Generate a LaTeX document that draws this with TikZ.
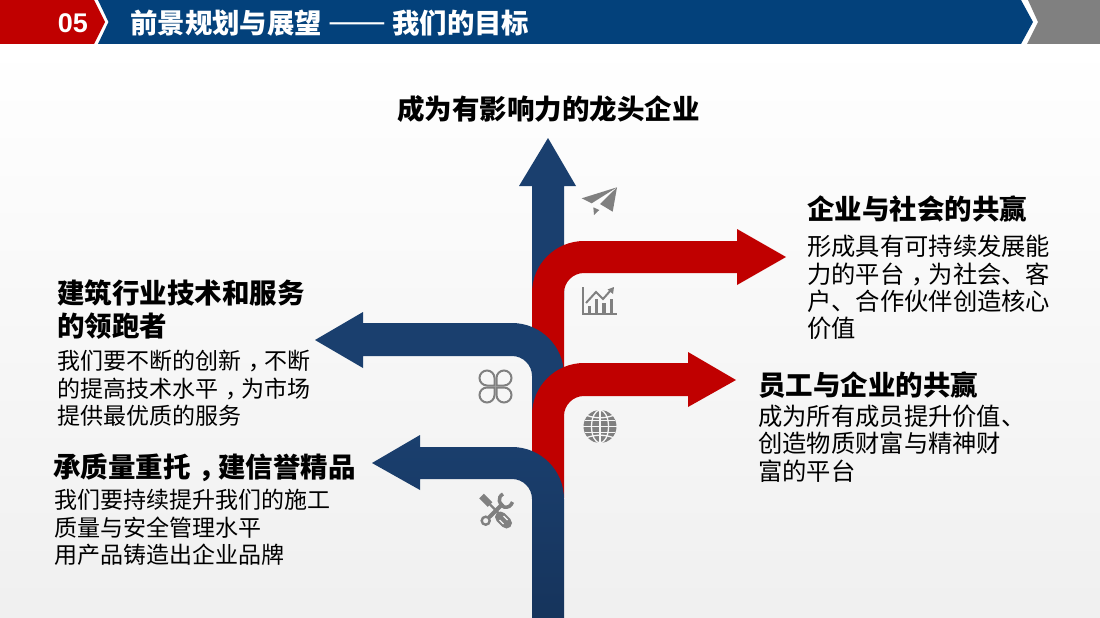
\documentclass[tikz,border=0pt]{standalone}
\usepackage{fontspec}
\setmainfont{Noto Sans CJK SC}
\newfontfamily\digitfont{Liberation Sans}
\usetikzlibrary{positioning}
\definecolor{planRed}{HTML}{C00000}
\definecolor{planNavy}{HTML}{03417B}
\definecolor{planBlue}{HTML}{1A3F6E}
\definecolor{planBlueDark}{HTML}{16345C}
\definecolor{planGrey}{HTML}{808080}
\definecolor{planPaper}{HTML}{F6F6F6}
\newcommand{\midcomma}{\kern.3em，\kern-.3em}

\begin{document}
\begin{tikzpicture}[x=1pt,y=-1pt]
\tikzset{BlueArrow/.style={fill=planBlue}}
\tikzset{RedArrow/.style={fill=planRed}}
\tikzset{IconFill/.style={fill=planGrey}}
\tikzset{IconLine/.style={draw=planGrey, line width=2pt}}
\tikzset{IconGap/.style={draw=planPaper, line width=1.3pt}}
\tikzset{MainHead/.style={
  anchor=north west,
  inner sep=0pt,
  align=left,
  font=\fontsize{27.5}{33}\selectfont\bfseries
}}
\tikzset{MainBody/.style={
  anchor=north west,
  inner sep=0pt,
  align=left,
  font=\fontsize{23}{27.6}\selectfont
}}

\useasboundingbox (0,0) rectangle (1100,618);
\shade[top color=white, bottom color=white!94!black] (0,44) rectangle (1100,618);

% header band
\fill[planRed] (0,0) -- (94,0) -- (105,22) -- (94,44) -- (0,44) -- cycle;
\fill[planNavy] (98,0) -- (1021,0) -- (1033,22) -- (1021,44) -- (98,44) -- (108.5,22) -- cycle;
\fill[planGrey] (1028,0) -- (1100,0) -- (1100,44) -- (1027,44) -- (1038,22) -- cycle;
\node[inner sep=0pt, text=white, font=\digitfont\fontsize{27}{30}\selectfont\bfseries] (chapterNo) at (73,23) {05};
\node[inner sep=0pt, anchor=west, text=white, font=\fontsize{27.4}{30}\selectfont\bfseries] (chapterTitle) at (130,23) {前景规划与展望 {\mdseries\fontsize{34.5}{30}\selectfont ——} 我们的目标};

% arrows, back to front
\fill[BlueArrow] (532,300) -- (532,186) -- (519,186) -- (548,138) -- (576,186) -- (564,186) -- (564,300) -- cycle;
\fill[RedArrow] (532,380) -- (532,293) .. controls (532,264.3) and (555.3,241) .. (584,241)
  -- (737,241) -- (737,229) -- (786,257) -- (737,285) -- (737,273) -- (584,273)
  .. controls (573,273) and (564,282) .. (564,293) -- (564,380) -- cycle;
\fill[BlueArrow] (532,412) -- (532,376) .. controls (532,365) and (523,356) .. (512,356)
  -- (363,356) -- (363,368) -- (315,340) -- (363,312) -- (363,323) -- (512,323)
  .. controls (540.7,323) and (564,346.3) .. (564,375) -- cycle;
\fill[RedArrow] (532,470) -- (532,415) .. controls (532,386.3) and (555.3,363) .. (584,363)
  -- (688,363) -- (688,352) -- (736,380) -- (688,407) -- (688,396) -- (584,396)
  .. controls (573,396) and (564,405) .. (564,416) -- (564,498) -- cycle;
\shade[top color=planBlue, bottom color=planBlueDark] (532,618) -- (532,499) .. controls (532,488) and (523,479) .. (512,479)
  -- (420,479) -- (420,490) -- (372,463) -- (420,435) -- (420,447) -- (512,447)
  .. controls (540.7,447) and (564,470.3) .. (564,499) -- (564,618) -- cycle;

% paper plane
\fill[IconFill] (581.7,198.3) -- (617,187.3) -- (591.7,203.3) -- cycle;
\fill[IconFill] (617,187.3) -- (612.7,211.7) -- (600,204) -- cycle;
\fill[IconFill] (593.3,207.3) -- (599.3,210) -- (594,215) -- cycle;

% chart
\draw[IconLine] (582.5,287) -- (582.5,313.5) -- (617,313.5);
\fill[IconFill] (588,306) rectangle (591,313);
\fill[IconFill] (595,299) rectangle (598,313);
\fill[IconFill] (602,303) rectangle (606,313);
\fill[IconFill] (610,299) rectangle (613,313);
\draw[IconLine] (586,303) -- (596,292) -- (603,299) -- (611,290);
\fill[IconFill] (614,287) -- (613,294) -- (607.5,289.5) -- cycle;

% clover
\foreach \sx/\sy in {1/1,1/-1,-1/1,-1/-1}{
  \begin{scope}[shift={(495.5,386.5)},xscale=\sx,yscale=\sy]
    \draw[IconLine] (1,1) -- (1,8.5) .. controls (1,12.6) and (4.4,16) .. (8.5,16)
      .. controls (12.6,16) and (16,12.6) .. (16,8.5)
      .. controls (16,4.4) and (12.6,1) .. (8.5,1) -- cycle;
  \end{scope}
}

% globe
\fill[IconFill] (600,426.5) circle[radius=16.5];
\draw[IconGap] (600,410) -- (600,443);
\draw[IconGap] (583,426.5) -- (617,426.5);
\draw[IconGap] (585,420.5) -- (615,420.5);
\draw[IconGap] (585,432.5) -- (615,432.5);
\draw[IconGap] (600,426.5) ellipse[x radius=8.5, y radius=16.5];
\draw[IconGap] (587,415.5) .. controls (595,418.5) and (605,418.5) .. (613,415.5);
\draw[IconGap] (587,437.5) .. controls (595,434.5) and (605,434.5) .. (613,437.5);

% tools
\draw[planGrey, line width=6.5pt] (481.5,496) -- (490,504.5);
\draw[planGrey, line width=2.2pt] (490,504.5) -- (500,514.5);
\draw[planGrey, line width=11pt, line cap=round] (500.5,517) -- (506.5,523);
\draw[planPaper, line width=1.3pt] (499.5,520) -- (503.5,524);
\draw[planPaper, line width=1.3pt] (503.5,516) -- (507.5,520);
\draw[IconLine, line width=2.4pt] (485.7,520.7) circle[radius=4];
\draw[planGrey, line width=4pt] (488.7,517.7) -- (503,503.5);
\draw[planGrey, line width=3.5pt] (503,494) .. controls (497,497) and (499,505) .. (504,507)
  .. controls (508,508) and (511,506) .. (512.5,502);

% texts
\node[MainHead] (goalTop) at (397,95) {成为有影响力的龙头企业};
\node[MainHead] (goalSociety) at (807,195.5) {企业与社会的共赢};
\node[MainBody, font=\fontsize{24.3}{27.3}\selectfont] (textSociety) at (807,235) {形成具有可持续发展能\\力的平台\midcomma 为社会、客\\户、合作伙伴创造核心\\价值};
\node[MainHead] (goalStaff) at (758,372) {员工与企业的共赢};
\node[MainBody, font=\fontsize{24.3}{27.5}\selectfont] (textStaff) at (758,404.5) {成为所有成员提升价值、\\创造物质财富与精神财\\富的平台};
\node[MainHead] (goalTrade) at (57,280) {建筑行业技术和服务\\的领跑者};
\node[MainBody] (textTrade) at (57,350) {我们要不断的创新\midcomma 不断\\的提高技术水平\midcomma 为市场\\提供最优质的服务};
\node[MainHead] (goalQuality) at (53,453) {承质量重托\midcomma 建信誉精品};
\node[MainBody] (textQuality) at (54,489) {我们要持续提升我们的施工\\质量与安全管理水平\\用产品铸造出企业品牌};
\end{tikzpicture}
\end{document}
